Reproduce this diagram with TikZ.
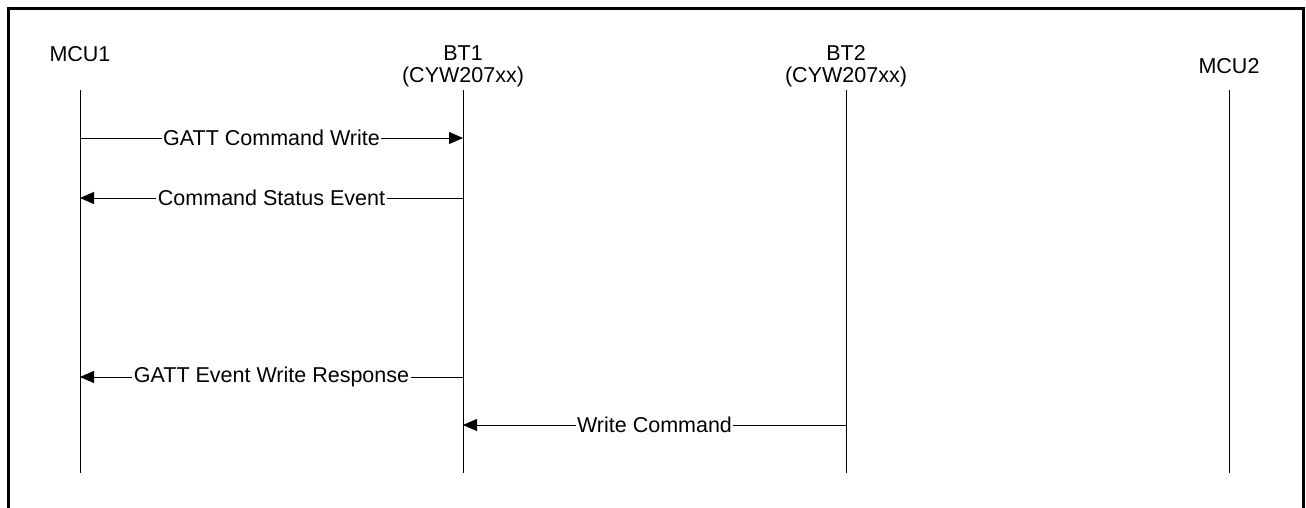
\documentclass[tikz,border=0pt]{standalone}
\usepackage{fontspec}
\setmainfont{Liberation Sans}
\usetikzlibrary{arrows.meta}

\begin{document}
\begin{tikzpicture}[
  x=1pt, y=-1pt, >={Triangle[length=14pt,width=12pt]},
  font=\fontsize{21.5}{22}\selectfont,
  head/.style={align=center, inner sep=0pt},
  lifeline/.style={line width=0.9pt},
  msg/.style={->, line width=0.9pt},
  lbl/.style={fill=white, inner sep=1.5pt},
]
\useasboundingbox (0,0) rectangle (1306,508);
\draw[line width=3pt] (8,508) -- (8,9) -- (1303,9) -- (1303,508);

% participants
\node[head] (mcua) at (80,54)   {MCU1};
\node[head] (bta)  at (463,66)  {BT1\\(CYW207xx)};
\node[head] (btb)  at (846,66)  {BT2\\(CYW207xx)};
\node[head] (mcub) at (1229,66) {MCU2};

% lifelines
\coordinate (mcua top) at (80,90);   \coordinate (mcua end) at (80,473);
\coordinate (bta top)  at (463,90);  \coordinate (bta end)  at (463,473);
\coordinate (btb top)  at (846,90);  \coordinate (btb end)  at (846,473);
\coordinate (mcub top) at (1229,90); \coordinate (mcub end) at (1229,473);
\foreach \p in {mcua,bta,btb,mcub}
  \draw[lifeline] (\p\space top) -- (\p\space end);

% message rows
\coordinate (r1) at (0,138);
\coordinate (r2) at (0,198);
\coordinate (r3) at (0,377);
\coordinate (r4) at (0,425);

\draw[msg] (mcua top |- r1) -- node[lbl]{GATT Command Write} (bta top |- r1);
\draw[msg] (bta top |- r2) -- node[lbl]{Command Status Event} (mcua top |- r2);
\draw[msg] (bta top |- r3) -- node[lbl]{GATT Event Write Response} (mcua top |- r3);
\draw[msg] (btb top |- r4) -- node[lbl]{Write Command} (bta top |- r4);
\end{tikzpicture}
\end{document}
